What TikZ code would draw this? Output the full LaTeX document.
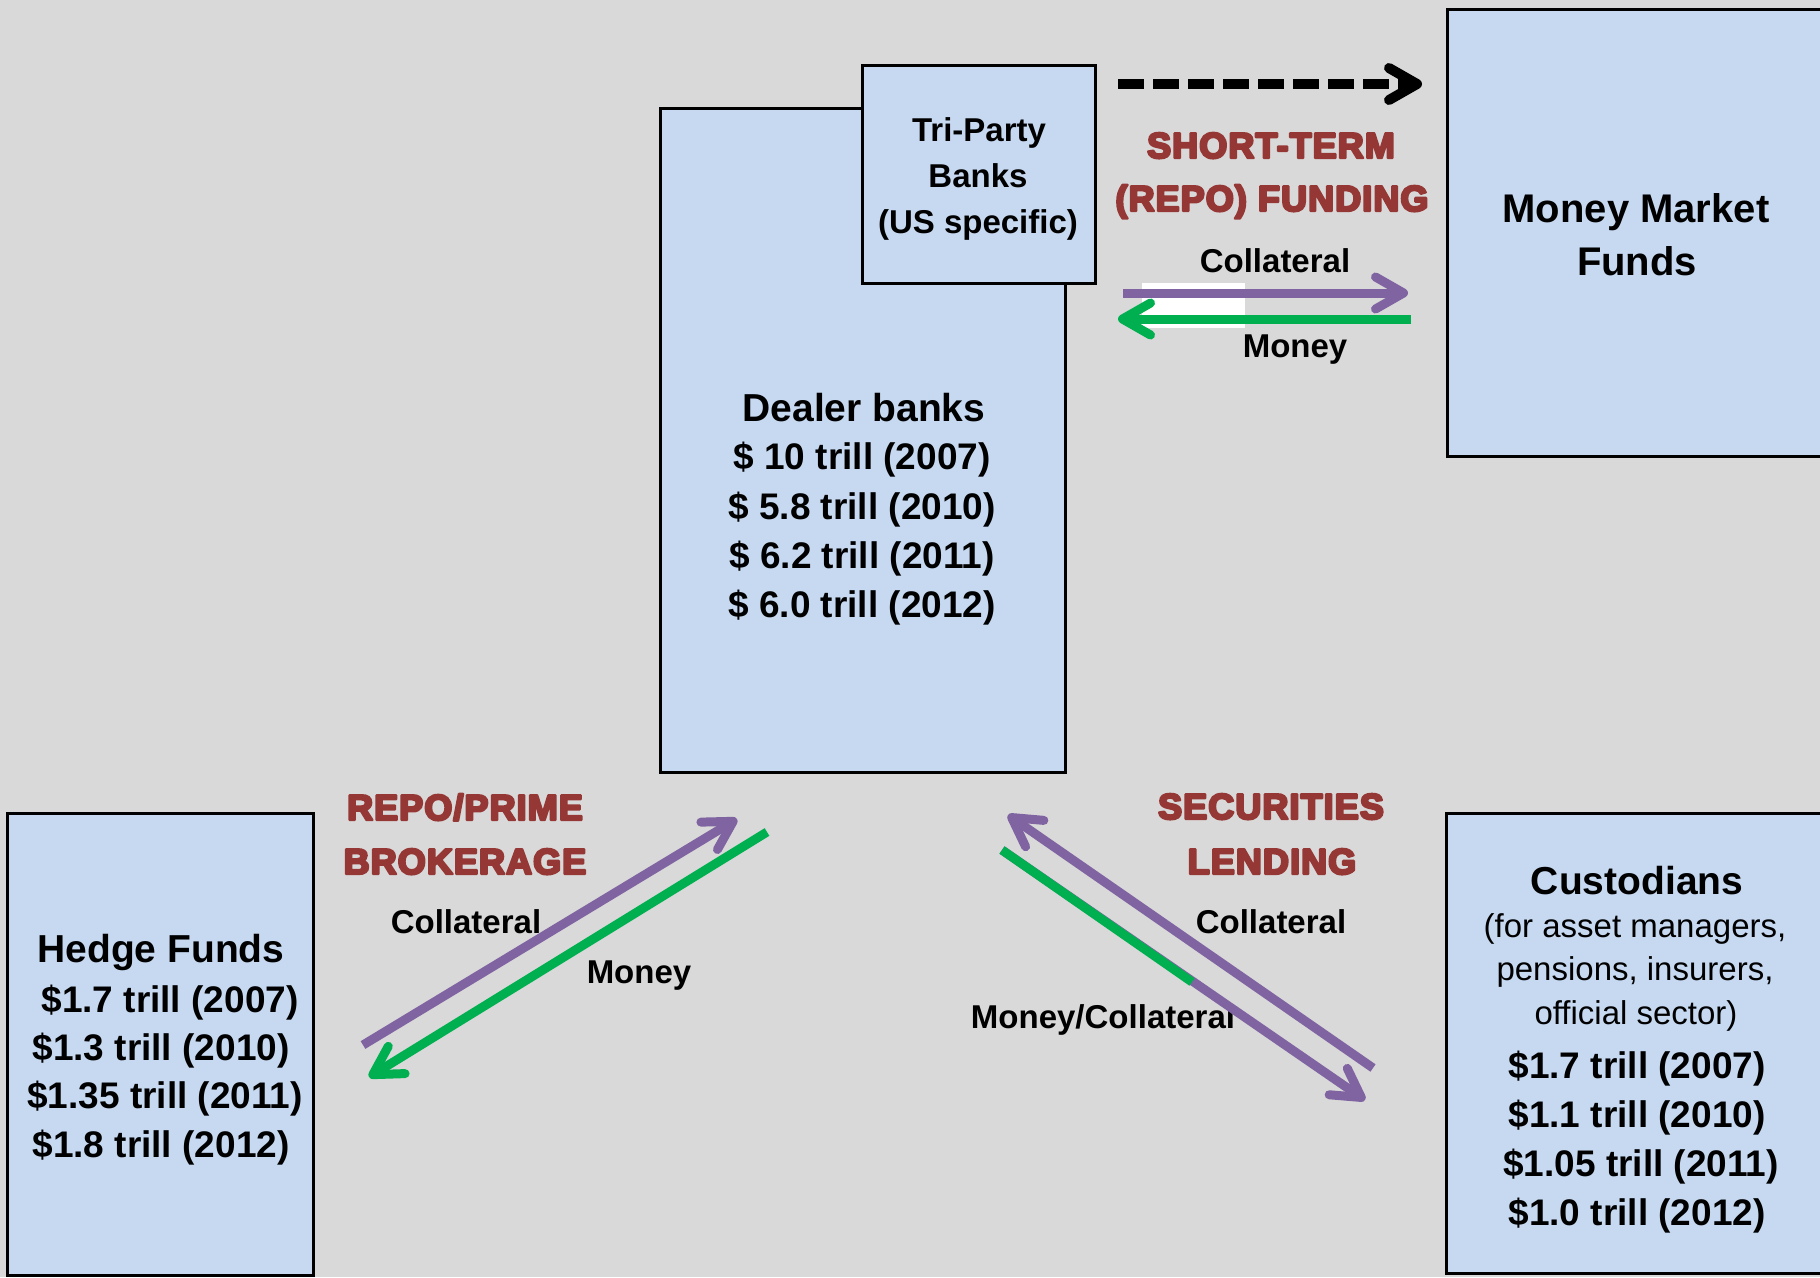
\documentclass[tikz,border=0pt]{standalone}
\usepackage{fontspec}
\setmainfont{Liberation Sans}
\newfontfamily\redfont[LetterSpace=3]{Liberation Sans}
\usetikzlibrary{arrows.meta}
\definecolor{bgc}{HTML}{D9D9D9}
\definecolor{boxfill}{HTML}{C6D9F1}
\definecolor{redlbl}{HTML}{953735}
\definecolor{purp}{HTML}{8064A2}
\definecolor{grn}{HTML}{00B050}
\newcommand\heavytext[1]{\special{pdf:literal direct 2 Tr 2.4 w 1 j}#1\special{pdf:literal direct 0 Tr}}
\tikzset{
  box/.style={draw=black, fill=boxfill, line width=3pt, anchor=north west, inner sep=0pt, outer sep=0pt},
  txt/.style={inner sep=0pt, anchor=base, font=\bfseries\fontsize{37}{44}\selectfont},
  ttl/.style={txt, font=\bfseries\fontsize{39}{46}\selectfont},
  sml/.style={txt, font=\bfseries\fontsize{33}{40}\selectfont},
  reg/.style={txt, font=\fontsize{33}{40}\selectfont},
  redtxt/.style={txt, text=redlbl, font=\redfont\bfseries\fontsize{36}{42}\selectfont},
  flow/.style={line width=9pt, -{Straight Barb[length=28pt, width=32pt, round]}},
}
\begin{document}
\begin{tikzpicture}[x=1pt, y=-1pt]
\useasboundingbox (0,0) rectangle (1820,1277);
\fill[bgc] (0,0) rectangle (1820,1277);
\begin{scope}
\clip (0,0) rectangle (1820,1277);
% boxes
\node[box, minimum width=405pt, minimum height=664pt] (dealer) at (660,108) {};
\node[box, minimum width=233pt, minimum height=218pt] (tri) at (862,65) {};
\node[box, minimum width=390pt, minimum height=447pt] (mmf) at (1447,9) {};
\node[box, minimum width=306pt, minimum height=462pt] (hedge) at (7,813) {};
\node[box, minimum width=390pt, minimum height=460pt] (cust) at (1446,813) {};
\end{scope}
% tri-party text
\node[sml] (tri1) at (979,141) {Tri-Party};
\node[sml] (tri2) at (978,187) {Banks};
\node[sml] (tri3) at (978,233) {(US specific)};
% dealer text
\node[ttl] (d0) at (864,421) {Dealer banks};
\node[txt] (d1) at (862,469) {\$ 10 trill (2007)};
\node[txt] (d2) at (862,519) {\$ 5.8 trill (2010)};
\node[txt] (d3) at (862,568) {\$ 6.2 trill (2011)};
\node[txt] (d4) at (862,617) {\$ 6.0 trill (2012)};
% money market funds
\node[txt, font=\bfseries\fontsize{40}{48}\selectfont] (m1) at (1636,222) {Money Market};
\node[txt, font=\bfseries\fontsize{40}{48}\selectfont] (m2) at (1637,275) {Funds};
% hedge funds
\node[ttl] (h0) at (161,962) {Hedge Funds};
\node[txt] (h1) at (170,1012) {\$1.7 trill (2007)};
\node[txt] (h2) at (161,1060) {\$1.3 trill (2010)};
\node[txt] (h3) at (165,1108) {\$1.35 trill (2011)};
\node[txt] (h4) at (161,1157) {\$1.8 trill (2012)};
% custodians
\node[ttl] (c0) at (1637,894) {Custodians};
\node[reg] (c1) at (1635,937) {(for asset managers,};
\node[reg] (c2) at (1635,980) {pensions, insurers,};
\node[reg] (c3) at (1636,1024) {official sector)};
\node[txt] (c4) at (1637,1078) {\$1.7 trill (2007)};
\node[txt] (c5) at (1637,1127) {\$1.1 trill (2010)};
\node[txt] (c6) at (1641,1176) {\$1.05 trill (2011)};
\node[txt] (c7) at (1637,1225) {\$1.0 trill (2012)};
% red labels
\node[redtxt] (r1) at (1271,158) {\heavytext{SHORT-TERM}};
\node[redtxt] (r2) at (1272,211) {\heavytext{(REPO) FUNDING}};
\node[redtxt] (r3) at (465,820) {\heavytext{REPO/PRIME}};
\node[redtxt] (r4) at (465,874) {\heavytext{BROKERAGE}};
\node[redtxt] (r5) at (1271,819) {\heavytext{SECURITIES}};
\node[redtxt] (r6) at (1272,874) {\heavytext{LENDING}};
% flow labels
\node[sml] (l1) at (1275,272) {Collateral};
\node[sml] (l2) at (1295,357) {Money};
\node[sml] (l3) at (466,933) {Collateral};
\node[sml] (l4) at (639,983) {Money};
\node[sml] (l5) at (1271,933) {Collateral};
\node[sml] (l6) at (1103,1028) {Money/Collateral};
% arrow end points
\coordinate (dashS) at (1118,84);
\coordinate (dashE) at (1422,84);
\coordinate (tpS) at (1123,293);
\coordinate (tpE) at (1408,293);
\coordinate (tgS) at (1411,319);
\coordinate (tgE) at (1118,319);
\coordinate (lpS) at (363,1045);
\coordinate (lpE) at (737,819);
\coordinate (lgS) at (767,832);
\coordinate (lgE) at (369,1077);
\coordinate (rpS) at (1373,1068);
\coordinate (rpE) at (1008,815);
\coordinate (rqS) at (1002,850);
\coordinate (rqE) at (1365,1100);
\coordinate (rgE) at (1192,982);
% white highlight
\fill[white] (1142,283) rectangle (1245,328);
% arrows
\draw[line width=10pt, dash pattern=on 26pt off 9pt, -{Straight Barb[length=28pt, width=32pt, round]}] (dashS) -- (dashE);
\draw[flow, purp] (tpS) -- (tpE);
\draw[flow, grn] (tgS) -- (tgE);
\draw[flow, purp] (lpS) -- (lpE);
\draw[flow, grn] (lgS) -- (lgE);
\draw[flow, purp] (rpS) -- (rpE);
\draw[flow, purp] (rqS) -- (rqE);
\draw[line width=9pt, grn] (rqS) -- (rgE);
\end{tikzpicture}
\end{document}
